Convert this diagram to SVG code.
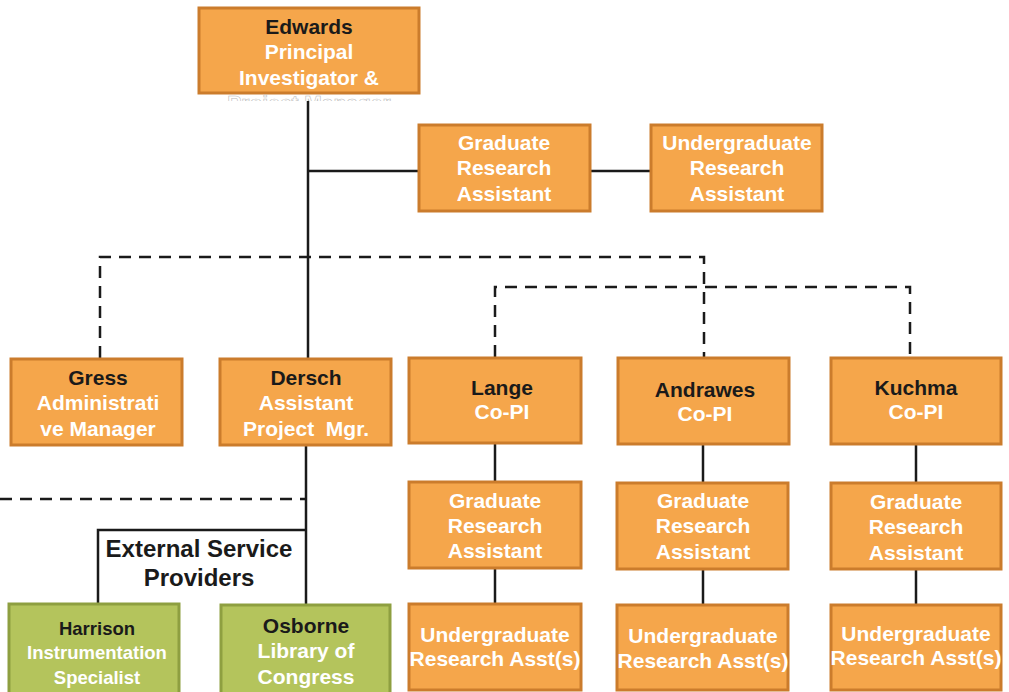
<svg xmlns="http://www.w3.org/2000/svg" width="1009" height="692" viewBox="0 0 1009 692">
<style>
.box{fill:#F5A64B;stroke:#CB7C2C;stroke-width:3}
.gbox{fill:#B4C45C;stroke:#8E9F40;stroke-width:3}
.t{font-family:"Liberation Sans",Arial,sans-serif;font-weight:bold;font-size:21px;text-anchor:middle}
.w{fill:#FFFFFF}
.k{fill:#1A1A1A}
.s{font-size:18.5px}
.big{font-size:24px}
.ln{stroke:#1A1A1A;stroke-width:2.5;fill:none}
.dl{stroke:#1A1A1A;stroke-width:2.5;fill:none;stroke-dasharray:12 8}
</style>
<defs>
<clipPath id="clipPM"><rect x="190" y="92" width="240" height="9"/></clipPath>
</defs>
<rect width="1009" height="692" fill="#FFFFFF"/>
<g id="connectors">
<line class="ln" x1="308" y1="96" x2="308" y2="358"/>
<line class="ln" x1="308" y1="171" x2="418" y2="171"/>
<line class="ln" x1="590" y1="171" x2="650" y2="171"/>
<polyline class="dl" points="100,358 100,257 704,257 704,357"/>
<polyline class="dl" points="495,357 495,287 910,287 910,357"/>
<line class="ln" x1="306" y1="445" x2="306" y2="604"/>
<line class="dl" x1="0" y1="499" x2="306" y2="499"/>
<polyline class="ln" points="98,603 98,530 306,530"/>
<line class="ln" x1="495" y1="444" x2="495" y2="481"/>
<line class="ln" x1="495" y1="568" x2="495" y2="603"/>
<line class="ln" x1="703" y1="444" x2="703" y2="482"/>
<line class="ln" x1="703" y1="569" x2="703" y2="604"/>
<line class="ln" x1="916" y1="444" x2="916" y2="482"/>
<line class="ln" x1="916" y1="569" x2="916" y2="604"/>
</g>
<g id="edwards">
<rect class="box" x="199" y="8" width="220" height="85"/>
<text class="t k" x="309" y="34">Edwards</text>
<text class="t w" x="309" y="59">Principal</text>
<text class="t w" x="309" y="85">Investigator &amp;</text>
<text class="t w" x="309" y="110" clip-path="url(#clipPM)" stroke="#BBBBBB" stroke-width="0.6">Project Manager</text>
</g>
<g id="gra-top">
<rect class="box" x="419" y="125" width="171" height="86"/>
<text class="t w" x="504" y="150">Graduate</text>
<text class="t w" x="504" y="175">Research</text>
<text class="t w" x="504" y="201">Assistant</text>
</g>
<g id="ura-top">
<rect class="box" x="651" y="125" width="171" height="86"/>
<text class="t w" x="737" y="150">Undergraduate</text>
<text class="t w" x="737" y="175">Research</text>
<text class="t w" x="737" y="201">Assistant</text>
</g>
<g id="gress">
<rect class="box" x="11" y="359" width="171" height="86"/>
<text class="t k" x="98" y="385">Gress</text>
<text class="t w" x="98" y="410">Administrati</text>
<text class="t w" x="98" y="436">ve Manager</text>
</g>
<g id="dersch">
<rect class="box" x="220" y="359" width="171" height="86"/>
<text class="t k" x="306" y="385">Dersch</text>
<text class="t w" x="306" y="410">Assistant</text>
<text class="t w" x="306" y="436" xml:space="preserve">Project  Mgr.</text>
</g>
<g id="lange">
<rect class="box" x="409" y="358" width="172" height="85"/>
<text class="t k" x="502" y="395">Lange</text>
<text class="t w" x="502" y="419">Co-PI</text>
</g>
<g id="andrawes">
<rect class="box" x="618" y="358" width="171" height="86"/>
<text class="t k" x="705" y="397">Andrawes</text>
<text class="t w" x="705" y="421">Co-PI</text>
</g>
<g id="kuchma">
<rect class="box" x="831" y="358" width="170" height="86"/>
<text class="t k" x="916" y="395">Kuchma</text>
<text class="t w" x="916" y="419">Co-PI</text>
</g>
<g id="gra-lange">
<rect class="box" x="409" y="482" width="172" height="86"/>
<text class="t w" x="495" y="508">Graduate</text>
<text class="t w" x="495" y="533">Research</text>
<text class="t w" x="495" y="558">Assistant</text>
</g>
<g id="gra-andrawes">
<rect class="box" x="617" y="483" width="171" height="86"/>
<text class="t w" x="703" y="508">Graduate</text>
<text class="t w" x="703" y="533">Research</text>
<text class="t w" x="703" y="559">Assistant</text>
</g>
<g id="gra-kuchma">
<rect class="box" x="831" y="483" width="170" height="86"/>
<text class="t w" x="916" y="509">Graduate</text>
<text class="t w" x="916" y="534">Research</text>
<text class="t w" x="916" y="560">Assistant</text>
</g>
<g id="ura-lange">
<rect class="box" x="409" y="604" width="172" height="86"/>
<text class="t w" x="495" y="642">Undergraduate</text>
<text class="t w" x="495" y="666">Research Asst(s)</text>
</g>
<g id="ura-andrawes">
<rect class="box" x="617" y="605" width="171" height="85"/>
<text class="t w" x="703" y="643">Undergraduate</text>
<text class="t w" x="703" y="668">Research Asst(s)</text>
</g>
<g id="ura-kuchma">
<rect class="box" x="831" y="605" width="170" height="85"/>
<text class="t w" x="916" y="641">Undergraduate</text>
<text class="t w" x="916" y="665">Research Asst(s)</text>
</g>
<g id="external-label">
<text class="t k big" x="199" y="557">External Service</text>
<text class="t k big" x="199" y="586">Providers</text>
</g>
<g id="harrison">
<rect class="gbox" x="9" y="604" width="170" height="90"/>
<text class="t k s" x="97" y="635">Harrison</text>
<text class="t w s" x="97" y="659">Instrumentation</text>
<text class="t w s" x="97" y="684">Specialist</text>
</g>
<g id="osborne">
<rect class="gbox" x="221" y="605" width="169" height="90"/>
<text class="t k" x="306" y="633">Osborne</text>
<text class="t w" x="306" y="658">Library of</text>
<text class="t w" x="306" y="684">Congress</text>
</g>
</svg>
